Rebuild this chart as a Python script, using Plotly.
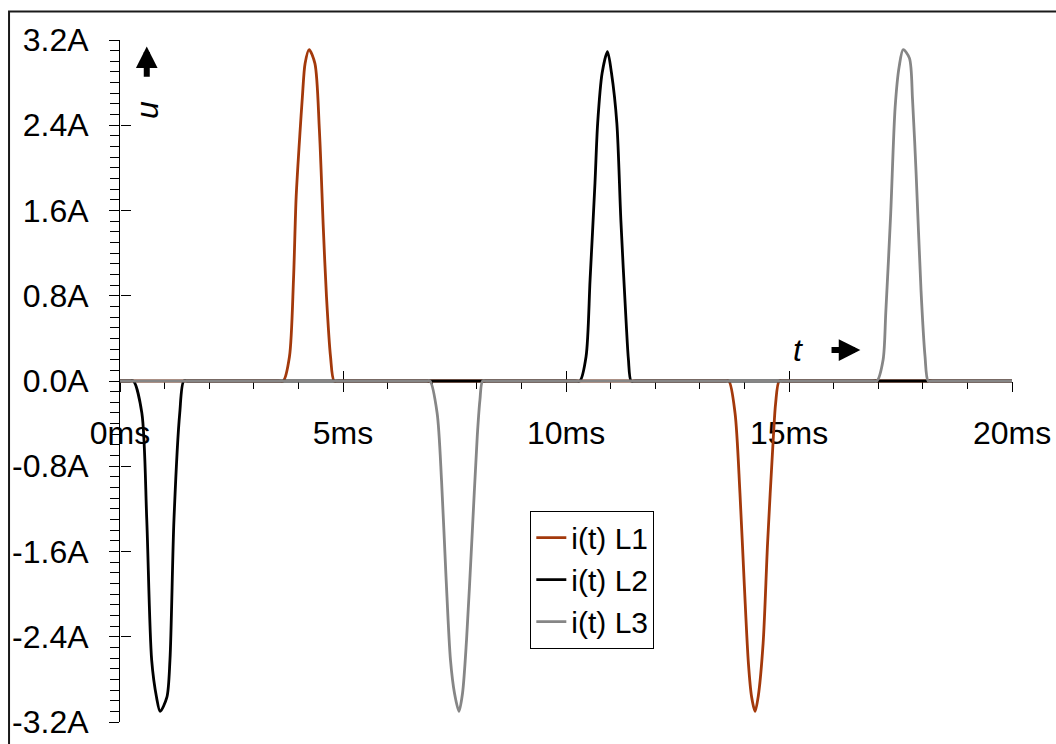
import plotly.graph_objects as go

# ---- data (time in ms, current in A) ----
L1_t = [0, 3.55, 3.66, 3.80, 3.89, 3.95, 4.04, 4.09, 4.15, 4.24, 4.37, 4.47, 4.56, 4.63, 4.72, 4.80, 4.90,
        13.55, 13.65, 13.79, 13.90, 14.00, 14.09, 14.16, 14.24, 14.31, 14.42, 14.52, 14.65, 14.70, 14.78, 14.88, 20]
L1_i = [0, 0, 0, 0.23, 0.95, 1.73, 2.36, 2.67, 2.98, 3.11, 2.98, 2.36, 1.42, 0.79, 0.23, 0, 0,
        0, 0, -0.30, -1.05, -1.93, -2.65, -2.96, -3.10, -2.96, -2.46, -1.52, -0.52, -0.21, 0, 0, 0]

L2_t = [0, 0.20, 0.30, 0.49, 0.60, 0.71, 0.82, 0.90, 1.05, 1.12, 1.21, 1.34, 1.43, 1.53,
        10.21, 10.31, 10.45, 10.54, 10.65, 10.71, 10.81, 10.93, 11.02, 11.14, 11.23, 11.35, 11.40, 11.46, 11.56, 20]
L2_i = [0, 0, 0, -0.30, -1.30, -2.62, -2.97, -3.10, -2.97, -2.62, -1.30, -0.30, 0, 0,
        0, 0, 0.23, 0.95, 1.86, 2.42, 2.89, 3.09, 2.89, 2.42, 1.51, 0.54, 0.20, 0, 0, 0]

L3_t = [0, 6.85, 6.95, 7.11, 7.21, 7.31, 7.41, 7.50, 7.60, 7.68, 7.77, 7.89, 8.01, 8.07, 8.13, 8.23,
        16.87, 16.97, 17.11, 17.17, 17.28, 17.38, 17.47, 17.56, 17.70, 17.77, 17.85, 17.96, 18.05, 18.12, 18.22, 20]
L3_i = [0, 0, 0, -0.30, -0.94, -1.84, -2.62, -2.93, -3.10, -2.93, -2.43, -1.49, -0.52, -0.18, 0, 0,
        0, 0, 0.20, 0.64, 1.57, 2.57, 2.95, 3.11, 3.03, 2.64, 1.95, 0.85, 0.23, 0, 0, 0]

series_names = ["i(t) L1", "i(t) L2", "i(t) L3"]
series_colors = ["#A3390B", "#000000", "#868686"]

y_tickvals = [3.2, 2.4, 1.6, 0.8, 0.0, -0.8, -1.6, -2.4, -3.2]
y_ticktext = ["3.2A", "2.4A", "1.6A", "0.8A", "0.0A", "-0.8A", "-1.6A", "-2.4A", "-3.2A"]
x_tickvals = [0, 5, 10, 15, 20]
x_ticktext = ["0ms", "5ms", "10ms", "15ms", "20ms"]

FONT = "Liberation Sans, Arial, sans-serif"

fig = go.Figure()
for name, color, tx, iy in zip(series_names, series_colors,
                               [L1_t, L2_t, L3_t], [L1_i, L2_i, L3_i]):
    fig.add_trace(go.Scatter(x=tx, y=iy, mode="lines", name=name, legendgroup=name,
                             line=dict(color=color, width=2.8, shape="spline", smoothing=0.8),
                             hoverinfo="skip"))

# invisible helper trace to activate overlay axes (inside half of major ticks)
fig.add_trace(go.Scatter(x=[0], y=[0], xaxis="x2", yaxis="y2", mode="markers",
                         marker=dict(opacity=0, size=1), showlegend=False, hoverinfo="skip"))

fig.update_layout(
    width=1056, height=744,
    margin=dict(l=120, r=44, t=40, b=22, autoexpand=False),
    paper_bgcolor="white", plot_bgcolor="white",
    font=dict(family=FONT, color="black", size=32),
    showlegend=True,
    legend=dict(x=0.46, y=0.31, xanchor="left", yanchor="top",
                bgcolor="white", bordercolor="black", borderwidth=1,
                font=dict(size=30, family=FONT), tracegroupgap=0),
    xaxis=dict(range=[0, 20], anchor="free", position=0.5, showgrid=False, zeroline=False,
               automargin=False,
               showline=True, linecolor="black", linewidth=1, layer="below traces",
               tickmode="array", tickvals=x_tickvals, ticktext=x_ticktext,
               ticks="outside", ticklen=10, tickcolor="black", tickwidth=1,
               ticklabelstandoff=14, tickfont=dict(size=32),
               minor=dict(ticks="outside", ticklen=7, dtick=1, tick0=0, tickcolor="black", showgrid=False)),
    yaxis=dict(range=[-3.2, 3.2], showgrid=False, zeroline=False, automargin=False,
               showline=True, linecolor="black", linewidth=1, layer="below traces",
               tickmode="array", tickvals=y_tickvals, ticktext=y_ticktext,
               ticks="outside", ticklen=10, tickcolor="black", tickwidth=1,
               ticklabelstandoff=14, tickfont=dict(size=32),
               minor=dict(ticks="outside", ticklen=9, dtick=0.1, tick0=0, tickcolor="black", showgrid=False)),
    xaxis2=dict(range=[0, 20], overlaying="x", anchor="free", position=0.5, showgrid=False,
                zeroline=False, showline=False, tickmode="array", tickvals=x_tickvals, automargin=False,
                ticks="inside", ticklen=10, tickcolor="black", showticklabels=False, layer="below traces"),
    yaxis2=dict(range=[-3.2, 3.2], overlaying="y", anchor="free", position=0, showgrid=False,
                zeroline=False, showline=False, tickmode="array", tickvals=y_tickvals, automargin=False,
                ticks="inside", ticklen=10, tickcolor="black", showticklabels=False, layer="below traces"),
)

# outer frame
fig.add_shape(type="rect", xref="paper", yref="paper", x0=-0.1244, x1=1.2, y0=-0.2, y1=1.0418,
              line=dict(color="#1a1a1a", width=2), layer="below")

# axis symbols and arrows
fig.add_annotation(x=0.6, y=3.14, ax=0.6, ay=2.84, xref="x", yref="y", axref="x", ayref="y",
                   text="", showarrow=True, arrowhead=2, arrowwidth=6, arrowsize=0.72, arrowcolor="black")
fig.add_annotation(x=0.62, y=2.54, xref="x", yref="y", text="u", showarrow=False, textangle=-90,
                   font=dict(size=32, family=FONT, style="italic"))
fig.add_annotation(x=15.2, y=0.29, xref="x", yref="y", text="t", showarrow=False,
                   font=dict(size=32, family=FONT, style="italic"))
fig.add_annotation(x=16.6, y=0.29, ax=15.92, ay=0.29, xref="x", yref="y", axref="x", ayref="y",
                   text="", showarrow=True, arrowhead=2, arrowwidth=6, arrowsize=0.72, arrowcolor="black")

fig.write_html("out.html")
